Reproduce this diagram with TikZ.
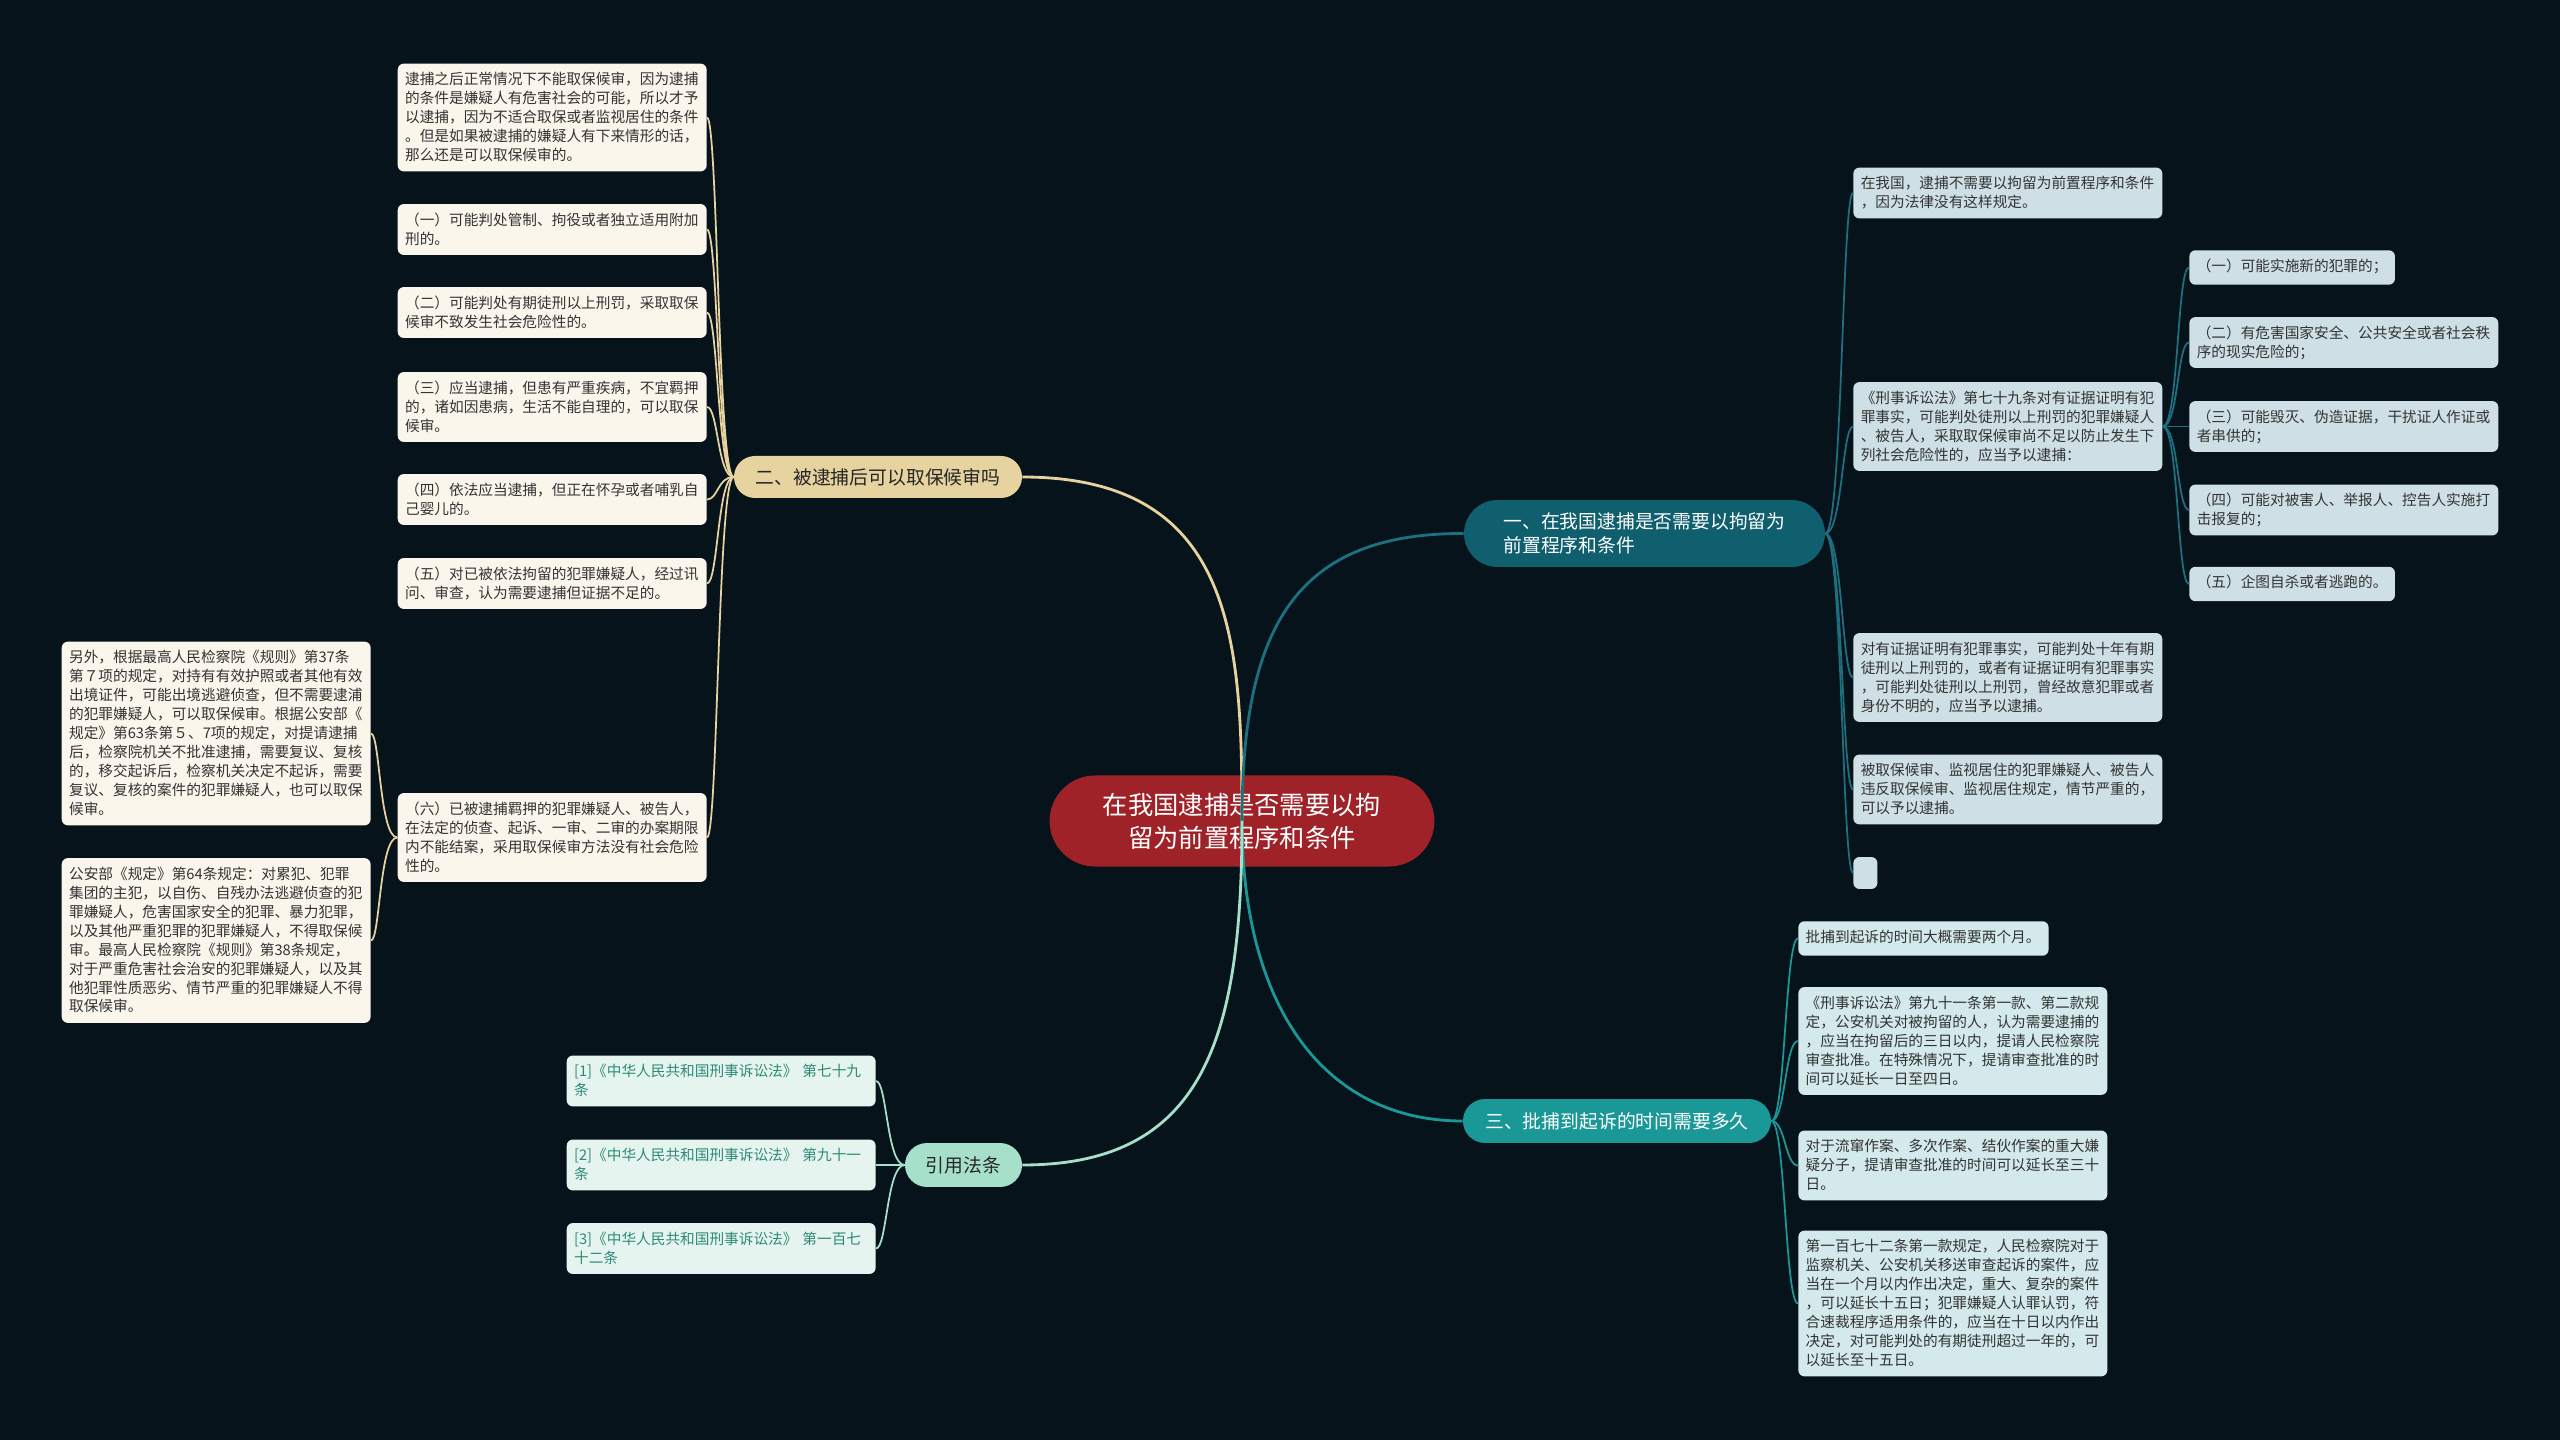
\documentclass[tikz,border=0pt]{standalone}
\usepackage{fontspec}
\setmainfont{Noto Sans CJK SC}
\definecolor{bgcol}{HTML}{07131B}
\definecolor{rootcol}{HTML}{9E2228}
\definecolor{deepcol}{HTML}{0F5F6F}
\definecolor{linkcol}{HTML}{1D7080}
\definecolor{sandcol}{HTML}{E6D3A0}
\definecolor{tealcol}{HTML}{1A9898}
\definecolor{mintcol}{HTML}{A6E0CB}
\definecolor{creamcol}{HTML}{FAF6EC}
\definecolor{bluecol}{HTML}{CEE0E6}
\definecolor{aquacol}{HTML}{D3E9EB}
\definecolor{palecol}{HTML}{E6F4F0}
\definecolor{refcol}{HTML}{2E8A76}
\definecolor{inkcol}{HTML}{333333}
\begin{document}
\begin{tikzpicture}[x=0.2mm, y=-0.2mm,
  leaf/.style={rounded corners=3.5pt, inner xsep=4.2pt, inner ysep=4.4pt, align=left, text=inkcol,
    font=\fontsize{8.35}{10.8}\selectfont, text width=#1,
    execute at begin node=\strut, execute at end node={\rule[-1.8pt]{0pt}{1pt}}},
  leaf/.default=167.4pt,
  sandleaf/.style={leaf, fill=creamcol, anchor=east},
  blueleaf/.style={leaf=#1, fill=bluecol, anchor=west},
  blueleaf/.default=167.4pt,
  aqualeaf/.style={leaf=#1, fill=aquacol, anchor=west},
  aqualeaf/.default=167.4pt,
  refleaf/.style={leaf, fill=palecol, text=refcol, anchor=east},
  pill/.style={inner sep=0pt, minimum height=#1, rounded corners=0.5*#1, align=left,
    font=\fontsize{10.7}{14}\selectfont},
  main/.style={line width=1.6pt},
  twig/.style={line width=1pt}]
  \fill[bgcol] (0,0) rectangle (2560,1440);
  \useasboundingbox (0,0) rectangle (2560,1440);

  \node (root) [fill=rootcol, text=white, minimum width=219pt, minimum height=51.8pt, rounded corners=25.9pt,
    inner sep=0pt, align=center, font=\fontsize{14.4}{18.8}\selectfont] at (1242,821)
    {在我国逮捕是否需要以拘\\留为前置程序和条件};
  \node (b1) [pill=38.1pt, minimum width=205.4pt, fill=deepcol, text=white, font=\fontsize{10.7}{13.9}\selectfont]
    at (1644.5,533.5) {一、在我国逮捕是否需要以拘留为\\前置程序和条件};
  \node (b2) [pill=23.9pt, minimum width=163.9pt, fill=sandcol, text=black!85] at (878,477) {二、被逮捕后可以取保候审吗};
  \node (b3) [pill=25pt, minimum width=175.3pt, fill=tealcol, text=white] at (1617,1121) {三、批捕到起诉的时间需要多久};
  \node (b4) [pill=25pt, minimum width=66.6pt, fill=mintcol, text=black!85] at (963.5,1165) {引用法条};

  \node (l1) [sandleaf] at (707,117.5) {逮捕之后正常情况下不能取保候审，因为逮捕\\的条件是嫌疑人有危害社会的可能，所以才予\\以逮捕，因为不适合取保或者监视居住的条件\\。但是如果被逮捕的嫌疑人有下来情形的话，\\那么还是可以取保候审的。};
  \node (l2) [sandleaf] at (707,229.5) {（一）可能判处管制、拘役或者独立适用附加\\刑的。};
  \node (l3) [sandleaf] at (707,312.5) {（二）可能判处有期徒刑以上刑罚，采取取保\\候审不致发生社会危险性的。};
  \node (l4) [sandleaf] at (707,407) {（三）应当逮捕，但患有严重疾病，不宜羁押\\的，诸如因患病，生活不能自理的，可以取保\\候审。};
  \node (l5) [sandleaf] at (707,499.5) {（四）依法应当逮捕，但正在怀孕或者哺乳自\\己婴儿的。};
  \node (l6) [sandleaf] at (707,583.5) {（五）对已被依法拘留的犯罪嫌疑人，经过讯\\问、审查，认为需要逮捕但证据不足的。};
  \node (l7) [sandleaf] at (707,837.5) {（六）已被逮捕羁押的犯罪嫌疑人、被告人，\\在法定的侦查、起诉、一审、二审的办案期限\\内不能结案，采用取保候审方法没有社会危险\\性的。};
  \node (pa) [sandleaf] at (371,733.5) {另外，根据最高人民检察院《规则》第37条\\第７项的规定，对持有有效护照或者其他有效\\出境证件，可能出境逃避侦查，但不需要逮浦\\的犯罪嫌疑人，可以取保候审。根据公安部《\\规定》第63条第５、7项的规定，对提请逮捕\\后，检察院机关不批准逮捕，需要复议、复核\\的，移交起诉后，检察机关决定不起诉，需要\\复议、复核的案件的犯罪嫌疑人，也可以取保\\候审。};
  \node (pb) [sandleaf] at (371,940.5) {公安部《规定》第64条规定：对累犯、犯罪\\集团的主犯，以自伤、自残办法逃避侦查的犯\\罪嫌疑人，危害国家安全的犯罪、暴力犯罪，\\以及其他严重犯罪的犯罪嫌疑人，不得取保候\\审。最高人民检察院《规则》第38条规定，\\对于严重危害社会治安的犯罪嫌疑人，以及其\\他犯罪性质恶劣、情节严重的犯罪嫌疑人不得\\取保候审。};

  \node (r1) [blueleaf] at (1853,193) {在我国，逮捕不需要以拘留为前置程序和条件\\，因为法律没有这样规定。};
  \node (r2) [blueleaf] at (1853,426.5) {《刑事诉讼法》第七十九条对有证据证明有犯\\罪事实，可能判处徒刑以上刑罚的犯罪嫌疑人\\、被告人，采取取保候审尚不足以防止发生下\\列社会危险性的，应当予以逮捕：};
  \node (r3) [blueleaf] at (1853,677.5) {对有证据证明有犯罪事实，可能判处十年有期\\徒刑以上刑罚的，或者有证据证明有犯罪事实\\，可能判处徒刑以上刑罚，曾经故意犯罪或者\\身份不明的，应当予以逮捕。};
  \node (r4) [blueleaf] at (1853,789.5) {被取保候审、监视居住的犯罪嫌疑人、被告人\\违反取保候审、监视居住规定，情节严重的，\\可以予以逮捕。};
  \node (r5) [fill=bluecol, rounded corners=3.5pt, inner sep=0pt, minimum width=13.7pt, minimum height=18.2pt, anchor=west] at (1853,873) {};
  \node (q1) [blueleaf=108.6pt] at (2189,267.5) {（一）可能实施新的犯罪的；};
  \node (q2) [blueleaf] at (2189,342.5) {（二）有危害国家安全、公共安全或者社会秩\\序的现实危险的；};
  \node (q3) [blueleaf] at (2189,426.5) {（三）可能毁灭、伪造证据，干扰证人作证或\\者串供的；};
  \node (q4) [blueleaf] at (2189,510) {（四）可能对被害人、举报人、控告人实施打\\击报复的；};
  \node (q5) [blueleaf=108.6pt] at (2189,584) {（五）企图自杀或者逃跑的。};

  \node (t1) [aqualeaf=134pt] at (1798,938.5) {批捕到起诉的时间大概需要两个月。};
  \node (t2) [aqualeaf] at (1798,1041) {《刑事诉讼法》第九十一条第一款、第二款规\\定，公安机关对被拘留的人，认为需要逮捕的\\，应当在拘留后的三日以内，提请人民检察院\\审查批准。在特殊情况下，提请审查批准的时\\间可以延长一日至四日。};
  \node (t3) [aqualeaf] at (1798,1165.5) {对于流窜作案、多次作案、结伙作案的重大嫌\\疑分子，提请审查批准的时间可以延长至三十\\日。};
  \node (t4) [aqualeaf] at (1798,1303.5) {第一百七十二条第一款规定，人民检察院对于\\监察机关、公安机关移送审查起诉的案件，应\\当在一个月以内作出决定，重大、复杂的案件\\，可以延长十五日；犯罪嫌疑人认罪认罚，符\\合速裁程序适用条件的，应当在十日以内作出\\决定，对可能判处的有期徒刑超过一年的，可\\以延长至十五日。};

  \node (f1) [refleaf] at (876,1081) {[1]《中华人民共和国刑事诉讼法》 第七十九\\条};
  \node (f2) [refleaf] at (876,1165) {[2]《中华人民共和国刑事诉讼法》 第九十一\\条};
  \node (f3) [refleaf] at (876,1248.5) {[3]《中华人民共和国刑事诉讼法》 第一百七\\十二条};

  \draw[main, sandcol] (root.center) .. controls (1242,640) and (1235,477) .. (b2.east);
  \draw[main, linkcol] (root.center) .. controls (1242,626) and (1296,533) .. (b1.west);
  \draw[main, tealcol] (root.center) .. controls (1242,1005) and (1323,1121) .. (b3.west);
  \draw[main, mintcol] (root.center) .. controls (1242,1040) and (1203,1165) .. (b4.east);

  \foreach \n in {l1,l2,l3,l4,l5,l6,l7}
    \draw[twig, sandcol] (b2.west) .. controls +(-16,0) and +(11,0) .. (\n.east);
  \foreach \n in {pa,pb}
    \draw[twig, sandcol] (l7.west) .. controls +(-18,0) and +(9,0) .. (\n.east);
  \foreach \n in {r1,r2,r3,r4,r5}
    \draw[twig, linkcol] (b1.east) .. controls +(17,0) and +(-11,0) .. (\n.west);
  \foreach \n in {q1,q2,q3,q4,q5}
    \draw[twig, linkcol] (r2.east) .. controls +(16,0) and +(-12,0) .. (\n.west);
  \foreach \n in {t1,t2,t3,t4}
    \draw[twig, tealcol] (b3.east) .. controls +(14,0) and +(-13,0) .. (\n.west);
  \foreach \n in {f1,f2,f3}
    \draw[twig, mintcol] (b4.west) .. controls +(-18,0) and +(11,0) .. (\n.east);
\end{tikzpicture}
\end{document}
